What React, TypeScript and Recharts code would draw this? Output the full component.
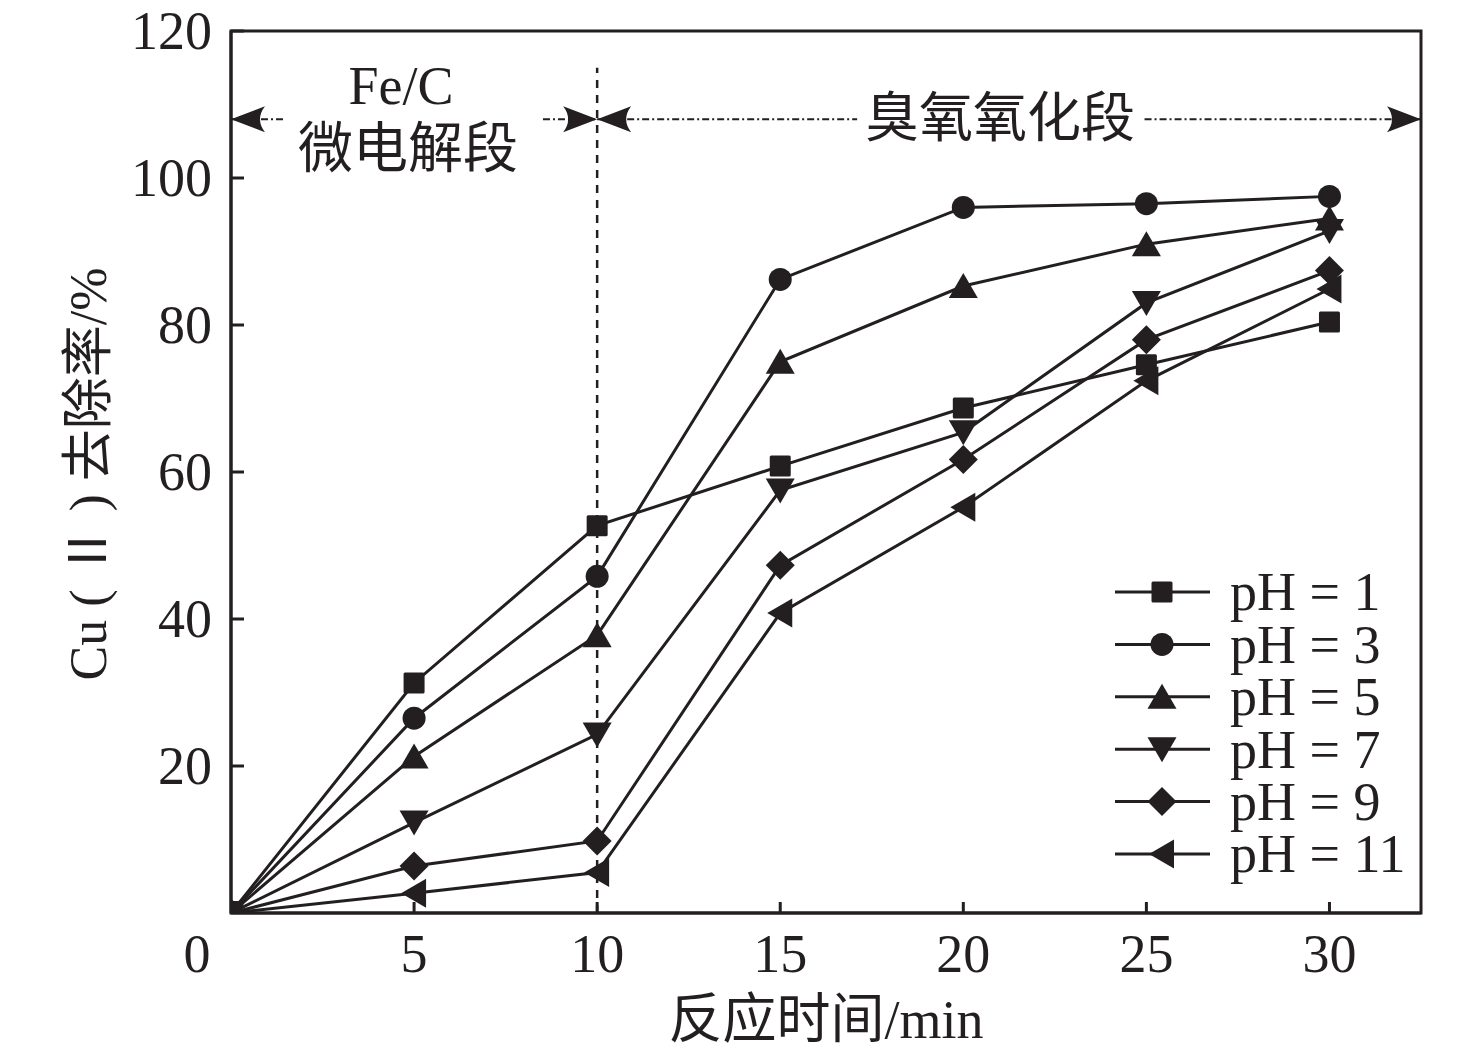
import { LineChart, Line, XAxis, YAxis, ReferenceLine, ReferenceDot, ReferenceArea, Legend } from 'recharts'

const INK = '#231f20'
const FONT = "'Liberation Serif', 'Times New Roman', 'Noto Sans CJK SC', serif"

// reaction time, min
const TIME = [0, 5, 10, 15, 20, 25, 30]

// Cu(II) removal, %
const PH1 = [0, 31.3, 52.7, 60.8, 68.7, 74.6, 80.4]
const PH3 = [0, 26.5, 45.8, 86.2, 96.0, 96.5, 97.5]
const PH5 = [0, 21.3, 37.8, 75.0, 85.3, 91.0, 94.5]
const PH7 = [0, 12.3, 24.3, 57.5, 65.4, 83.0, 92.8]
const PH9 = [0, 6.4, 9.8, 47.3, 61.7, 78.0, 87.4]
const PH11 = [0, 2.7, 5.5, 40.8, 55.2, 72.4, 84.9]

const X_TICKS = [0, 5, 10, 15, 20, 25, 30]
const Y_TICKS = [20, 40, 60, 80, 100, 120]

const SERIES = [
    { key: 'ph1', name: 'pH = 1', values: PH1, marker: 'square' },
    { key: 'ph3', name: 'pH = 3', values: PH3, marker: 'circle' },
    { key: 'ph5', name: 'pH = 5', values: PH5, marker: 'up' },
    { key: 'ph7', name: 'pH = 7', values: PH7, marker: 'down' },
    { key: 'ph9', name: 'pH = 9', values: PH9, marker: 'diamond' },
    { key: 'ph11', name: 'pH = 11', values: PH11, marker: 'left' },
]

const rows = TIME.map((t, i) => {
    const row: Record<string, number> = { t }
    SERIES.forEach(s => { row[s.key] = s.values[i] })
    return row
})

function Marker({ cx, cy, kind }: { cx: number; cy: number; kind: string }) {
    if (cx == null || cy == null) return null
    switch (kind) {
        case 'square':
            return <rect x={cx - 10.5} y={cy - 10.5} width={21} height={21} rx={1.5} fill={INK} />
        case 'circle':
            return <circle cx={cx} cy={cy} r={11.5} fill={INK} />
        case 'up':
            return <polygon points={`${cx},${cy - 13} ${cx + 14.5},${cy + 12} ${cx - 14.5},${cy + 12}`} fill={INK} />
        case 'down':
            return <polygon points={`${cx},${cy + 13} ${cx + 14.5},${cy - 12} ${cx - 14.5},${cy - 12}`} fill={INK} />
        case 'diamond':
            return <polygon points={`${cx},${cy - 14.5} ${cx + 14.5},${cy} ${cx},${cy + 14.5} ${cx - 14.5},${cy}`} fill={INK} />
        default:
            return <polygon points={`${cx - 13},${cy} ${cx + 12},${cy - 14.5} ${cx + 12},${cy + 14.5}`} fill={INK} />
    }
}

function XTick(props: any) {
    const { x, y, payload } = props
    const zero = payload.value === 0
    return (
        <g>
            {!zero && <line x1={x} y1={y} x2={x} y2={y - 11} stroke={INK} strokeWidth={3} />}
            <text x={zero ? x - 34 : x} y={y + 59} textAnchor="middle" fontSize={54} fontFamily={FONT} fill={INK}>
                {payload.value}
            </text>
        </g>
    )
}

function YTick(props: any) {
    const { x, y, payload } = props
    return (
        <g>
            <line x1={x} y1={y} x2={x + 13} y2={y} stroke={INK} strokeWidth={3} />
            <text x={x - 19} y={y} dy="0.34em" textAnchor="end" fontSize={54} fontFamily={FONT} fill={INK}>
                {payload.value}
            </text>
        </g>
    )
}

function XTitle(props: any) {
    const { viewBox } = props
    return (
        <text x={viewBox.x + viewBox.width / 2} y={viewBox.y + 107} dominantBaseline="central" textAnchor="middle"
            fontSize={54} fontFamily={FONT} fill={INK}>
            反应时间/min
        </text>
    )
}

function YTitle(props: any) {
    const { viewBox } = props
    const cx = viewBox.x + 80
    const cy = viewBox.y + viewBox.height / 2 + 2
    return (
        <text x={cx} y={cy} transform={`rotate(-90 ${cx} ${cy})`} dominantBaseline="central" textAnchor="middle"
            fontSize={52} fontFamily={FONT} fill={INK}>
            Cu ( Ⅱ ) 去除率/%
        </text>
    )
}

// dash-dot line with a barbed arrowhead at one end
const arrow = (head: 'start' | 'end') => (props: any) => {
    const { x1, y1, x2, y2 } = props
    const tx = head === 'start' ? x1 : x2
    const d = head === 'start' ? 1 : -1
    const ty = head === 'start' ? y1 : y2
    return (
        <g>
            <line x1={x1} y1={y1} x2={x2} y2={y2} stroke={INK} strokeWidth={2} strokeDasharray="7 3 2 3" />
            <path
                d={`M${tx},${ty} L${tx + d * 34},${ty - 13} Q${tx + d * 24},${ty} ${tx + d * 34},${ty + 13} Z`}
                fill={INK}
            />
        </g>
    )
}

function StageLabel(lines: string[]) {
    return (props: any) => {
        const { cx, cy } = props
        if (lines.length === 1) {
            return (
                <text x={cx} y={cy} dominantBaseline="central" textAnchor="middle" fontSize={54} fontFamily={FONT} fill={INK}>
                    {lines[0]}
                </text>
            )
        }
        return (
            <g>
                <text x={cx - 4} y={cy - 15} textAnchor="middle" fontSize={54} fontFamily={FONT} fill={INK}>{lines[0]}</text>
                <text x={cx + 3} y={cy + 29} dominantBaseline="central" textAnchor="middle" fontSize={55} fontFamily={FONT} fill={INK}>{lines[1]}</text>
            </g>
        )
    }
}

function LegendBox() {
    return (
        <svg width={320} height={350} style={{ overflow: 'visible' }}>
            {SERIES.map((s, i) => {
                const y = 40 + i * 52.4
                return (
                    <g key={s.key}>
                        <line x1={7} y1={y} x2={102} y2={y} stroke={INK} strokeWidth={3} />
                        <Marker cx={54} cy={y} kind={s.marker} />
                        <text x={122} y={y} dy="0.34em" fontSize={54} fontFamily={FONT} fill={INK}>{s.name}</text>
                    </g>
                )
            })}
        </svg>
    )
}

export default function App() {
    return (
        <div style={{ width: 1460, height: 1057, marginTop: -10, background: '#fff' }}>
            <LineChart width={1460} height={1057} data={rows} margin={{ top: 33, right: 47, bottom: 0, left: 0 }}>
                <XAxis
                    dataKey="t"
                    type="number"
                    domain={[0, 32.5]}
                    allowDataOverflow
                    ticks={X_TICKS}
                    interval={0}
                    height={142}
                    tickSize={0}
                    tickMargin={0}
                    tickLine={false}
                    tick={<XTick />}
                    axisLine={{ stroke: INK, strokeWidth: 3 }}
                    label={{ content: XTitle }}
                />
                <YAxis
                    type="number"
                    domain={[0, 120]}
                    allowDataOverflow
                    ticks={Y_TICKS}
                    interval={0}
                    width={223}
                    tickSize={0}
                    tickMargin={0}
                    tickLine={false}
                    tick={<YTick />}
                    axisLine={{ stroke: INK, strokeWidth: 3 }}
                    label={{ content: YTitle }}
                />
                <ReferenceArea x1={0} x2={32.5} y1={0} y2={120} fill="none" stroke={INK} strokeWidth={3} ifOverflow="visible" />
                <ReferenceLine segment={[{ x: 10, y: 0 }, { x: 10, y: 115 }]} stroke={INK} strokeWidth={2.5} strokeDasharray="8 7" ifOverflow="visible" />
                <ReferenceLine segment={[{ x: 0, y: 108 }, { x: 1.42, y: 108 }]} shape={arrow('start')} ifOverflow="visible" />
                <ReferenceLine segment={[{ x: 8.52, y: 108 }, { x: 10, y: 108 }]} shape={arrow('end')} ifOverflow="visible" />
                <ReferenceLine segment={[{ x: 10, y: 108 }, { x: 17.1, y: 108 }]} shape={arrow('start')} ifOverflow="visible" />
                <ReferenceLine segment={[{ x: 24.95, y: 108 }, { x: 32.5, y: 108 }]} shape={arrow('end')} ifOverflow="visible" />
                <ReferenceDot x={4.75} y={108} r={0} shape={StageLabel(['Fe/C', '微电解段'])} ifOverflow="visible" />
                <ReferenceDot x={21.0} y={108} r={0} shape={StageLabel(['臭氧氧化段'])} ifOverflow="visible" />
                {SERIES.map(s => (
                    <Line
                        key={s.key}
                        dataKey={s.key}
                        name={s.name}
                        stroke={INK}
                        strokeWidth={3}
                        isAnimationActive={false}
                        activeDot={false}
                        dot={(p: any) => <Marker key={`${s.key}-${p.index}`} cx={p.cx} cy={p.cy} kind={s.marker} />}
                    />
                ))}
                <Legend
                    layout="vertical"
                    align="center"
                    verticalAlign="middle"
                    content={() => <LegendBox />}
                    wrapperStyle={{ left: 1100, top: 554, width: 320, bottom: 'auto', right: 'auto' }}
                />
            </LineChart>
        </div>
    )
}
